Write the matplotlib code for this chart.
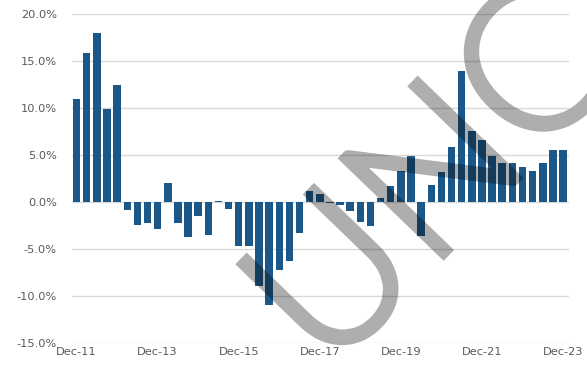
import matplotlib
matplotlib.use("Agg")
import matplotlib.pyplot as plt
from matplotlib import font_manager, patheffects
import numpy as np

# Quarterly values (%), Dec-11 .. Dec-23
values = [11.0, 15.8, 18.0, 9.9, 12.5, -0.9, -2.45, -2.2, -2.9, 2.0,
          -2.2, -3.7, -1.5, -3.5, 0.1, -0.7, -4.7, -4.7, -8.9, -10.95,
          -7.2, -6.3, -3.3, 1.2, 0.9, -0.1, -0.3, -1.0, -2.1, -2.5,
          0.4, 1.7, 3.3, 4.9, -3.65, 1.85, 3.2, 5.8, 13.9, 7.6,
          6.55, 4.9, 4.1, 4.1, 3.7, 3.35, 4.1, 5.5, 5.5]
tick_labels = ["Dec-11", "Dec-13", "Dec-15", "Dec-17", "Dec-19", "Dec-21", "Dec-23"]
tick_step = 8
y_ticks = [-15, -10, -5, 0, 5, 10, 15, 20]
watermark = "UNC"

FIGSIZE = (5.87, 3.66)
DPI = 100

# pick a light-weight sans for the watermark if one is installed
wm_font = None
for fam in ["Lato", "Roboto", "Open Sans", "Noto Sans", "Inter"]:
    for f in font_manager.fontManager.ttflist:
        if f.name == fam and f.style == "normal":
            w = f.weight if isinstance(f.weight, int) else 400
            if 300 <= w <= 350:
                wm_font = f.fname
                break
    if wm_font:
        break
if wm_font:
    wm_props = font_manager.FontProperties(fname=wm_font, size=144)
    wm_extra = 4.3
else:
    wm_props = font_manager.FontProperties(family="Liberation Sans", size=144)
    wm_extra = 0.0

fig = plt.figure(figsize=FIGSIZE, dpi=DPI)
ax = fig.add_axes([0.1227, 0.0628, 0.969 - 0.1227, 0.9617 - 0.0628])

x = np.arange(len(values))
ax.bar(x, values, width=0.74, color="#1b5788", zorder=3)

ax.set_ylim(-15, 20)
ax.set_xlim(-0.45, len(values) - 0.43)
ax.set_yticks(y_ticks)
ax.set_yticklabels([f"{v:.1f}%" for v in y_ticks])
ax.set_xticks(np.arange(0, len(values), tick_step))
ax.set_xticklabels(tick_labels)

ax.grid(axis="y", color="#d9d9d9", linewidth=1.0, zorder=0)
ax.grid(axis="x", visible=False)
for s in ax.spines.values():
    s.set_visible(False)
ax.tick_params(axis="both", length=0, labelsize=8.2, labelcolor="#595959")
ax.tick_params(axis="y", pad=11)
ax.tick_params(axis="x", pad=3)

# watermark overlay: render solid text off-screen, then lay it on semi-transparently
wm_fig = plt.figure(figsize=FIGSIZE, dpi=DPI)
effects = ([patheffects.withStroke(linewidth=wm_extra, foreground="black",
                                   joinstyle="miter", capstyle="projecting")]
           if wm_extra else [])
wm_fig.text(478 / 587, 1 - 221 / 366, watermark, rotation=46, rotation_mode="anchor",
            ha="center", va="baseline", fontproperties=wm_props, color="black",
            path_effects=effects)
wm_fig.canvas.draw()
buf = np.asarray(wm_fig.canvas.buffer_rgba()).astype(float)
plt.close(wm_fig)
mask = 1.0 - buf[:, :, 0] / 255.0
overlay = np.zeros(buf.shape, dtype=float)
overlay[:, :, 3] = mask * 0.32
fig.figimage(overlay, xo=0, yo=0, origin="upper", zorder=10)

fig.savefig("out.png", dpi=DPI)
